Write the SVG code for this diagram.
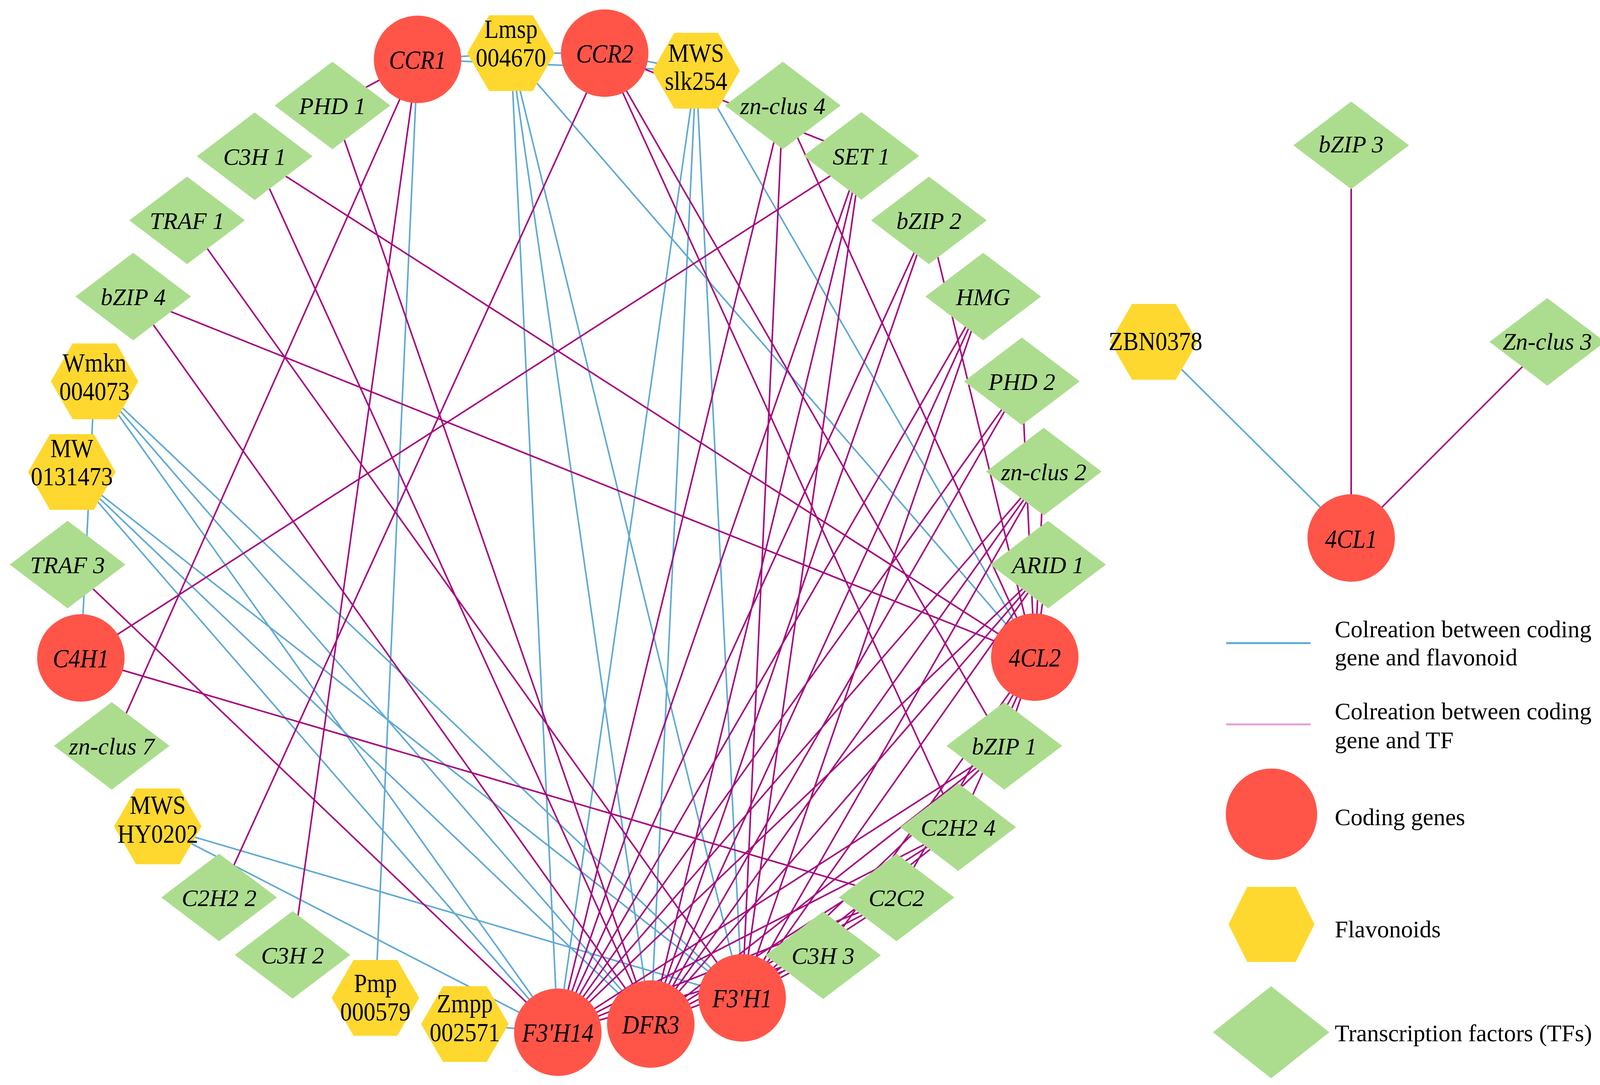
<svg xmlns="http://www.w3.org/2000/svg" width="4408" height="2777" viewBox="0 0 4408 2777">
<style>
.b{stroke:#5fa9d6;stroke-width:4;fill:none}
.p{stroke:#a6087f;stroke-width:4;fill:none}
.gene{fill:#ff5549}
.flav{fill:#fed82f}
.tf{fill:#acdd8e}
text{font-family:"Liberation Serif","Times New Roman",serif;fill:#000;text-anchor:middle}
.ti{font-style:italic;font-size:61px}
.tg{font-style:italic;font-size:60px;transform-box:fill-box;transform-origin:50% 50%;transform:scaleY(1.14)}
.tr{font-size:60px;transform-box:fill-box;transform-origin:50% 50%;transform:scaleY(1.13)}
.lg{font-size:61px;text-anchor:start}
</style>
<defs>
<polygon id="dia" points="-148,0 0,-112 148,0 0,112"/>
<polygon id="hex" points="-112,0 -56,-97 56,-97 112,0 56,97 -56,97"/>
</defs>
<rect width="4408" height="2777" fill="#fff"/>
<g id="connectors">
<line class="b" x1="1069" y1="152" x2="1308" y2="136"/>
<line class="b" x1="1069" y1="152" x2="1782" y2="181"/>
<line class="b" x1="1548" y1="136" x2="1308" y2="136"/>
<line class="b" x1="1548" y1="136" x2="1782" y2="181"/>
<line class="b" x1="1069" y1="152" x2="961" y2="2554"/>
<line class="b" x1="1308" y1="136" x2="1428" y2="2642"/>
<line class="b" x1="1308" y1="136" x2="1666" y2="2621"/>
<line class="b" x1="1308" y1="136" x2="1900" y2="2554"/>
<line class="b" x1="1308" y1="136" x2="2649" y2="1682"/>
<line class="b" x1="1782" y1="181" x2="1428" y2="2642"/>
<line class="b" x1="1782" y1="181" x2="1666" y2="2621"/>
<line class="b" x1="1782" y1="181" x2="1900" y2="2554"/>
<line class="b" x1="1782" y1="181" x2="2649" y2="1682"/>
<line class="b" x1="242" y1="976" x2="207" y2="1684"/>
<line class="b" x1="242" y1="976" x2="1428" y2="2642"/>
<line class="b" x1="242" y1="976" x2="1666" y2="2621"/>
<line class="b" x1="242" y1="976" x2="1900" y2="2554"/>
<line class="b" x1="184" y1="1208" x2="1428" y2="2642"/>
<line class="b" x1="184" y1="1208" x2="1666" y2="2621"/>
<line class="b" x1="184" y1="1208" x2="1900" y2="2554"/>
<line class="b" x1="404" y1="2115" x2="1428" y2="2642"/>
<line class="b" x1="404" y1="2115" x2="1900" y2="2554"/>
<line class="b" x1="1190" y1="2621" x2="1428" y2="2642"/>
<line class="b" x1="2954" y1="875" x2="3459" y2="1377"/>
<line class="p" x1="1069" y1="152" x2="851" y2="270"/>
<line class="p" x1="1069" y1="152" x2="286" y2="1909"/>
<line class="p" x1="1069" y1="152" x2="749" y2="2444"/>
<line class="p" x1="1548" y1="136" x2="561" y2="2297"/>
<line class="p" x1="1548" y1="136" x2="2205" y2="399"/>
<line class="p" x1="1548" y1="136" x2="2453" y2="2117"/>
<line class="p" x1="1548" y1="136" x2="2571" y2="1909"/>
<line class="p" x1="851" y1="270" x2="1666" y2="2621"/>
<line class="p" x1="652" y1="400" x2="2649" y2="1682"/>
<line class="p" x1="652" y1="400" x2="1666" y2="2621"/>
<line class="p" x1="479" y1="564" x2="1900" y2="2554"/>
<line class="p" x1="341" y1="759" x2="2649" y2="1682"/>
<line class="p" x1="341" y1="759" x2="1666" y2="2621"/>
<line class="p" x1="173" y1="1445" x2="1428" y2="2642"/>
<line class="p" x1="207" y1="1684" x2="2205" y2="399"/>
<line class="p" x1="207" y1="1684" x2="2295" y2="2297"/>
<line class="p" x1="2004" y1="270" x2="1428" y2="2642"/>
<line class="p" x1="2004" y1="270" x2="1900" y2="2554"/>
<line class="p" x1="2004" y1="270" x2="2649" y2="1682"/>
<line class="p" x1="2205" y1="399" x2="1428" y2="2642"/>
<line class="p" x1="2205" y1="399" x2="1666" y2="2621"/>
<line class="p" x1="2205" y1="399" x2="1900" y2="2554"/>
<line class="p" x1="2378" y1="564" x2="1428" y2="2642"/>
<line class="p" x1="2378" y1="564" x2="1666" y2="2621"/>
<line class="p" x1="2378" y1="564" x2="2649" y2="1682"/>
<line class="p" x1="2517" y1="759" x2="1428" y2="2642"/>
<line class="p" x1="2517" y1="759" x2="1666" y2="2621"/>
<line class="p" x1="2517" y1="759" x2="1900" y2="2554"/>
<line class="p" x1="2616" y1="976" x2="1428" y2="2642"/>
<line class="p" x1="2616" y1="976" x2="1666" y2="2621"/>
<line class="p" x1="2616" y1="976" x2="2649" y2="1682"/>
<line class="p" x1="2672" y1="1207" x2="1428" y2="2642"/>
<line class="p" x1="2672" y1="1207" x2="1666" y2="2621"/>
<line class="p" x1="2672" y1="1207" x2="1900" y2="2554"/>
<line class="p" x1="2672" y1="1207" x2="2649" y2="1682"/>
<line class="p" x1="2683" y1="1445" x2="1428" y2="2642"/>
<line class="p" x1="2683" y1="1445" x2="1666" y2="2621"/>
<line class="p" x1="2683" y1="1445" x2="1900" y2="2554"/>
<line class="p" x1="2683" y1="1445" x2="2649" y2="1682"/>
<line class="p" x1="2571" y1="1909" x2="1428" y2="2642"/>
<line class="p" x1="2571" y1="1909" x2="1666" y2="2621"/>
<line class="p" x1="2571" y1="1909" x2="1900" y2="2554"/>
<line class="p" x1="2571" y1="1909" x2="2649" y2="1682"/>
<line class="p" x1="2453" y1="2117" x2="1428" y2="2642"/>
<line class="p" x1="2453" y1="2117" x2="1666" y2="2621"/>
<line class="p" x1="2453" y1="2117" x2="1900" y2="2554"/>
<line class="p" x1="2453" y1="2117" x2="2649" y2="1682"/>
<line class="p" x1="2295" y1="2297" x2="1428" y2="2642"/>
<line class="p" x1="2295" y1="2297" x2="1666" y2="2621"/>
<line class="p" x1="2295" y1="2297" x2="1900" y2="2554"/>
<line class="p" x1="2295" y1="2297" x2="2649" y2="1682"/>
<line class="p" x1="2107" y1="2445" x2="1428" y2="2642"/>
<line class="p" x1="2107" y1="2445" x2="1666" y2="2621"/>
<line class="p" x1="2107" y1="2445" x2="1900" y2="2554"/>
<line class="p" x1="2107" y1="2445" x2="2649" y2="1682"/>
<line class="p" x1="3459" y1="1377" x2="3459" y2="372"/>
<line class="p" x1="3459" y1="1377" x2="3961" y2="875"/>
</g>
<g id="CCR1"><circle class="gene" cx="1069" cy="152" r="112"/><text class="tg" x="1069" y="173">CCR1</text></g>
<g id="Lmsp004670"><use href="#hex" class="flav" x="1308" y="136"/><text class="tr" x="1308" y="94">Lmsp</text><text class="tr" x="1308" y="167">004670</text></g>
<g id="CCR2"><circle class="gene" cx="1548" cy="136" r="112"/><text class="tg" x="1548" y="157">CCR2</text></g>
<g id="MWSslk254"><use href="#hex" class="flav" x="1782" y="181"/><text class="tr" x="1782" y="155">MWS</text><text class="tr" x="1782" y="227">slk254</text></g>
<g id="znclus4"><use href="#dia" class="tf" x="2004" y="270"/><text class="ti" x="2004" y="292">zn-clus 4</text></g>
<g id="SET1"><use href="#dia" class="tf" x="2205" y="399"/><text class="ti" x="2205" y="421">SET 1</text></g>
<g id="bZIP2"><use href="#dia" class="tf" x="2378" y="564"/><text class="ti" x="2378" y="586">bZIP 2</text></g>
<g id="HMG"><use href="#dia" class="tf" x="2517" y="759"/><text class="ti" x="2517" y="781">HMG</text></g>
<g id="PHD2"><use href="#dia" class="tf" x="2616" y="976"/><text class="ti" x="2616" y="998">PHD 2</text></g>
<g id="znclus2"><use href="#dia" class="tf" x="2672" y="1207"/><text class="ti" x="2672" y="1229">zn-clus 2</text></g>
<g id="ARID1"><use href="#dia" class="tf" x="2683" y="1445"/><text class="ti" x="2683" y="1467">ARID 1</text></g>
<g id="4CL2"><circle class="gene" cx="2649" cy="1682" r="112"/><text class="tg" x="2649" y="1703">4CL2</text></g>
<g id="bZIP1"><use href="#dia" class="tf" x="2571" y="1909"/><text class="ti" x="2571" y="1931">bZIP 1</text></g>
<g id="C2H2_4"><use href="#dia" class="tf" x="2453" y="2117"/><text class="ti" x="2453" y="2139">C2H2 4</text></g>
<g id="C2C2"><use href="#dia" class="tf" x="2295" y="2297"/><text class="ti" x="2295" y="2319">C2C2</text></g>
<g id="C3H3"><use href="#dia" class="tf" x="2107" y="2445"/><text class="ti" x="2107" y="2467">C3H 3</text></g>
<g id="F3H1"><circle class="gene" cx="1900" cy="2554" r="112"/><text class="tg" x="1900" y="2575">F3'H1</text></g>
<g id="DFR3"><circle class="gene" cx="1666" cy="2621" r="112"/><text class="tg" x="1666" y="2642">DFR3</text></g>
<g id="F3H14"><circle class="gene" cx="1428" cy="2642" r="112"/><text class="tg" x="1428" y="2663">F3'H14</text></g>
<g id="Zmpp002571"><use href="#hex" class="flav" x="1190" y="2621"/><text class="tr" x="1190" y="2588">Zmpp</text><text class="tr" x="1190" y="2662">002571</text></g>
<g id="Pmp000579"><use href="#hex" class="flav" x="961" y="2554"/><text class="tr" x="961" y="2536">Pmp</text><text class="tr" x="961" y="2609">000579</text></g>
<g id="C3H2"><use href="#dia" class="tf" x="749" y="2444"/><text class="ti" x="749" y="2466">C3H 2</text></g>
<g id="C2H2_2"><use href="#dia" class="tf" x="561" y="2297"/><text class="ti" x="561" y="2319">C2H2 2</text></g>
<g id="MWSHY0202"><use href="#hex" class="flav" x="404" y="2115"/><text class="tr" x="404" y="2080">MWS</text><text class="tr" x="404" y="2154">HY0202</text></g>
<g id="znclus7"><use href="#dia" class="tf" x="286" y="1909"/><text class="ti" x="286" y="1931">zn-clus 7</text></g>
<g id="C4H1"><circle class="gene" cx="207" cy="1684" r="112"/><text class="tg" x="207" y="1705">C4H1</text></g>
<g id="TRAF3"><use href="#dia" class="tf" x="173" y="1445"/><text class="ti" x="173" y="1467">TRAF 3</text></g>
<g id="MW0131473"><use href="#hex" class="flav" x="184" y="1208"/><text class="tr" x="184" y="1167">MW</text><text class="tr" x="184" y="1239">0131473</text></g>
<g id="Wmkn004073"><use href="#hex" class="flav" x="242" y="976"/><text class="tr" x="242" y="948">Wmkn</text><text class="tr" x="242" y="1021">004073</text></g>
<g id="bZIP4"><use href="#dia" class="tf" x="341" y="759"/><text class="ti" x="341" y="781">bZIP 4</text></g>
<g id="TRAF1"><use href="#dia" class="tf" x="479" y="564"/><text class="ti" x="479" y="586">TRAF 1</text></g>
<g id="C3H1"><use href="#dia" class="tf" x="652" y="400"/><text class="ti" x="652" y="422">C3H 1</text></g>
<g id="PHD1"><use href="#dia" class="tf" x="851" y="270"/><text class="ti" x="851" y="292">PHD 1</text></g>
<g id="bZIP3"><use href="#dia" class="tf" x="3459" y="372"/><text class="ti" x="3459" y="390">bZIP 3</text></g>
<g id="ZBN0378"><use href="#hex" class="flav" x="2954" y="875"/><text class="tr" x="2958" y="893">ZBN0378</text></g>
<g id="Znclus3"><use href="#dia" class="tf" x="3961" y="875"/><text class="ti" x="3961" y="895">Zn-clus 3</text></g>
<g id="4CL1"><circle class="gene" cx="3459" cy="1377" r="112"/><text class="tg" x="3459" y="1399">4CL1</text></g>
<g id="legend">
<line x1="3139" y1="1646" x2="3355" y2="1646" stroke="#5fa9d6" stroke-width="5"/>
<text class="lg" x="3417" y="1631">Colreation between coding</text>
<text class="lg" x="3417" y="1703">gene and flavonoid</text>
<line x1="3139" y1="1854" x2="3355" y2="1854" stroke="#e49fd6" stroke-width="5"/>
<text class="lg" x="3417" y="1841">Colreation between coding</text>
<text class="lg" x="3417" y="1915">gene and TF</text>
<circle class="gene" cx="3255" cy="2084" r="117"/>
<text class="lg" x="3417" y="2112">Coding genes</text>
<polygon class="flav" points="3145,2366 3193,2270 3317,2270 3365,2366 3317,2462 3193,2462"/>
<text class="lg" x="3417" y="2399">Flavonoids</text>
<polygon class="tf" points="3105,2642 3254,2524 3403,2642 3254,2760"/>
<text class="lg" x="3417" y="2665">Transcription factors (TFs)</text>
</g>
</svg>
